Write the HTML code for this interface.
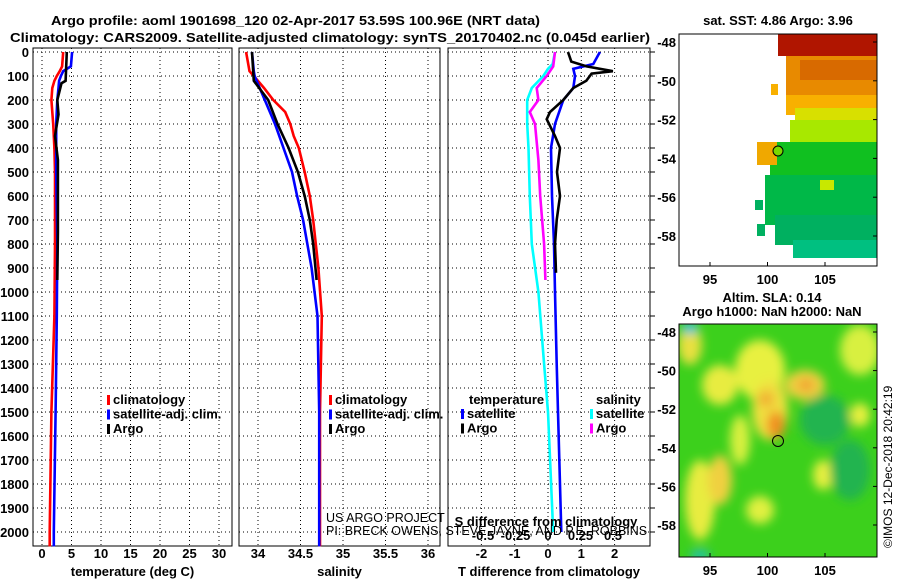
<!DOCTYPE html>
<html><head><meta charset="utf-8"><style>
body{margin:0;background:#fff;}
svg{display:block;font-family:"Liberation Sans",sans-serif;}
.t{font-weight:bold;font-size:13px;fill:#000;}
.g{stroke:#000;stroke-width:1;stroke-dasharray:1,3;}
</style></head><body>
<svg id="c" width="900" height="580" viewBox="0 0 900 580">
<defs>
<filter id="bl" x="-50%" y="-50%" width="200%" height="200%"><feGaussianBlur stdDeviation="5"/></filter>
<clipPath id="mc2"><rect x="679" y="324" width="198" height="233"/></clipPath>
<clipPath id="mc1"><rect x="679" y="34" width="198" height="232"/></clipPath>
</defs>
<text x="51" y="25" class="t" font-size="14" textLength="489" lengthAdjust="spacingAndGlyphs">Argo profile: aoml 1901698_120 02-Apr-2017 53.59S 100.96E (NRT data)</text>
<text x="10" y="42" class="t" font-size="14" textLength="640" lengthAdjust="spacingAndGlyphs">Climatology: CARS2009. Satellite-adjusted climatology: synTS_20170402.nc (0.045d earlier)</text>
<g id="plots"></g>
<!-- top map -->
<g clip-path="url(#mc1)">
<rect x="778" y="34" width="99" height="22" fill="#b01500"/>
<rect x="786" y="56" width="91" height="52" fill="#e88a00"/>
<rect x="800" y="60" width="77" height="20" fill="#d86a00"/>
<rect x="786" y="95" width="91" height="20" fill="#f8b000"/>
<rect x="795" y="108" width="82" height="20" fill="#d8e000"/>
<rect x="790" y="120" width="87" height="22" fill="#a8e800"/>
<rect x="770" y="142" width="107" height="40" fill="#10c020"/>
<rect x="765" y="175" width="112" height="50" fill="#00b848"/>
<rect x="775" y="215" width="102" height="30" fill="#00b060"/>
<rect x="793" y="240" width="84" height="18" fill="#00c080"/>
<rect x="757" y="142" width="20" height="23" fill="#f0a800"/>
<rect x="771" y="84" width="7" height="11" fill="#f8b000"/>
<rect x="755" y="200" width="8" height="10" fill="#00b060"/>
<rect x="757" y="224" width="8" height="12" fill="#00b060"/>
<rect x="820" y="180" width="14" height="10" fill="#c8e800"/>
<circle cx="778" cy="151" r="5" fill="#7ad800" stroke="#000"/>
</g>
<rect x="679" y="34" width="198" height="232" fill="none" stroke="#000"/>
<text x="778" y="25" class="t" font-size="12" text-anchor="middle">sat. SST: 4.86 Argo: 3.96</text>
<!-- bottom map -->
<g clip-path="url(#mc2)">
<rect x="679" y="324" width="198" height="233" fill="#3cd01c"/>
<g filter="url(#bl)">
<ellipse cx="760" cy="370" rx="25" ry="30" fill="#e8f040"/>
<ellipse cx="770" cy="410" rx="18" ry="30" fill="#f0e040"/>
<ellipse cx="776" cy="425" rx="9" ry="14" fill="#f09020"/>
<ellipse cx="766" cy="399" rx="8" ry="8" fill="#f0b030"/>
<ellipse cx="805" cy="385" rx="20" ry="15" fill="#f0d040"/>
<ellipse cx="806" cy="385" rx="8" ry="6" fill="#f0a030"/>
<ellipse cx="720" cy="385" rx="18" ry="20" fill="#e8ec40"/>
<ellipse cx="700" cy="500" rx="15" ry="40" fill="#e8ec40"/>
<ellipse cx="720" cy="480" rx="12" ry="25" fill="#f0d040"/>
<ellipse cx="740" cy="440" rx="10" ry="25" fill="#d8f040"/>
<ellipse cx="690" cy="345" rx="12" ry="20" fill="#e8e040"/>
<ellipse cx="860" cy="350" rx="20" ry="25" fill="#d8f040"/>
<ellipse cx="823" cy="475" rx="10" ry="15" fill="#e8f040"/>
<ellipse cx="860" cy="415" rx="10" ry="12" fill="#e8f040"/>
<ellipse cx="760" cy="510" rx="14" ry="14" fill="#e0f040"/>
<ellipse cx="825" cy="420" rx="25" ry="25" fill="#20b450"/>
<ellipse cx="850" cy="470" rx="20" ry="30" fill="#20b450"/>
<ellipse cx="690" cy="328" rx="8" ry="6" fill="#20c0e0"/>
<ellipse cx="700" cy="555" rx="10" ry="5" fill="#20c0c0"/>
</g>
<circle cx="778" cy="441" r="5.5" fill="none" stroke="#000"/>
</g>
<rect x="679" y="324" width="198" height="233" fill="none" stroke="#000"/>
<text x="772" y="302" class="t" font-size="12" text-anchor="middle">Altim. SLA: 0.14</text>
<text x="772" y="316" class="t" font-size="12" text-anchor="middle">Argo h1000: NaN h2000: NaN</text>
<text transform="translate(892,548) rotate(-90)" font-size="12">©IMOS 12-Dec-2018 20:42:19</text>
<g id="maptx"></g>
</svg>
<script>
// ---- data ----
const tDepth=[0,60,80,100,120,150,200,300,400,500,800,1100,1500,2000,2060];
const tClim=[3.6,3.4,3.0,2.5,2.1,1.75,1.6,1.9,2.1,2.2,2.2,2.1,1.6,1.3,1.3];
const tSat=[5.1,4.9,3.6,3.2,2.9,2.8,2.6,2.4,2.4,2.4,2.6,2.5,2.3,2.0,2.0];
const argoDepth=[0,120,130,200,260,350,450,750,950];
const tArgo=[4.2,4.0,3.3,2.6,2.8,2.2,2.7,2.7,2.6];
const sDepth=[0,80,100,150,200,250,300,350,400,500,600,700,900,1100,1500,2000,2060];
const sClim=[33.86,33.9,33.95,34.07,34.18,34.32,34.38,34.42,34.48,34.55,34.61,34.65,34.71,34.75,34.73,34.73,34.73];
const sSat=[33.93,33.95,33.96,34.02,34.08,34.14,34.2,34.25,34.3,34.4,34.46,34.53,34.63,34.7,34.72,34.72,34.72];
const sArgoDepth=[0,120,200,300,400,500,600,700,800,950];
const sArgo=[33.93,33.95,34.12,34.23,34.36,34.47,34.55,34.61,34.65,34.69];
const dDepth=[0,50,70,100,150,200,300,400,600,800,1000,1300,1500,2000];
const dTSat=[1.56,1.36,0.76,0.81,0.76,0.46,0.21,0.09,0.12,0.18,0.21,0.26,0.3,0.4];
const dSSat=[0.054,0.036,0.0,-0.036,-0.125,-0.16,-0.16,-0.15,-0.14,-0.125,-0.074,-0.03,0.0,0.04];
const dArgoDepth=[0,40,60,80,90,120,150,200,250,280,350,400,500,600,700,800,920];
const dTArgo=[0.6,0.7,1.16,1.95,1.31,1.15,0.76,0.46,0.06,-0.04,0.21,0.36,0.27,0.36,0.26,0.21,0.24];
const dSArgoDepth=[0,60,100,150,200,250,300,450,600,800,950];
const dSArgo=[0.054,0.04,-0.01,-0.087,-0.074,-0.14,-0.1,-0.074,-0.06,-0.03,-0.02];
const depthTicks=[0,100,200,300,400,500,600,700,800,900,1000,1100,1200,1300,1400,1500,1600,1700,1800,1900,2000];
const tTicks=[0,5,10,15,20,25,30];
const sTicks=[34,34.5,35,35.5,36];
const dTTicks=[-2,-1,0,1,2];
const dSTicks=[-0.5,-0.25,0,0.25,0.5];
const latTicks=[-48,-50,-52,-54,-56,-58];
const lonTicks=[95,100,105];
// ---- scales ----
const Y=d=>52+d*0.24;
const xT=v=>42+v*5.9;
const xS=v=>258+(v-34)*85;
const xDT=v=>548+v*33.3;
const xDS=v=>548+v*130;
const NS='http://www.w3.org/2000/svg';
const root=document.getElementById('plots');
function mk(tag,at,parent){const e=document.createElementNS(NS,tag);for(const k in at)e.setAttribute(k,at[k]);(parent||root).appendChild(e);return e;}
const top0=48,bot=546;
const panels=[{x0:33,x1:232,ticks:tTicks,sx:xT,lab:v=>String(v),title:'temperature (deg C)',name:'temperature'},
{x0:239,x1:440,ticks:sTicks,sx:xS,lab:v=>String(v),title:'salinity',name:'salinity'},
{x0:448,x1:650,ticks:dTTicks,sx:xDT,lab:v=>String(v),title:'T difference from climatology',name:'difference'}];
panels.forEach((p,i)=>{
  const g=mk('g',{});
  
  
  p.ticks.forEach(v=>{const x=p.sx(v);
    const l=mk('line',{x1:x,x2:x,y1:top0,y2:bot,class:'g'},g);
    
    
    const t=mk('text',{x:x,y:558,class:'t','text-anchor':'middle'},g);t.textContent=p.lab(v);
    
    
  });
  depthTicks.forEach(d=>{const y=Y(d);
    const l=mk('line',{x1:p.x0,x2:p.x1,y1:y,y2:y,class:'g'},g);
    
    
    if(i===0){const t=mk('text',{x:29,y:y+5,class:'t','text-anchor':'end'},g);t.textContent=d;
      
      }
    if(i===2){const tk=mk('line',{x1:p.x1,x2:p.x1+5,y1:y,y2:y,stroke:'#000'},g);
      
      }
  });
  const fr=mk('rect',{x:p.x0,y:top0,width:p.x1-p.x0,height:bot-top0,fill:'none',stroke:'#000'},g);
  
  
  const tt=mk('text',{x:(p.x0+p.x1)/2,y:576,class:'t','text-anchor':'middle'},g);tt.textContent=p.title;
  
  
});
function line(xs,ds,sx,col,name){
  const pts=xs.map((v,i)=>sx(v).toFixed(1)+','+Y(ds[i]).toFixed(1)).join(' ');
  const l=mk('polyline',{points:pts,fill:'none',stroke:col,'stroke-width':2.6});
  
  
}
line(tClim,tDepth,xT,'#f00','temp-climatology-line');
line(tSat,tDepth,xT,'#00f','temp-satellite-line');
line(tArgo,argoDepth,xT,'#000','temp-argo-line');
line(sClim,sDepth,xS,'#f00','sal-climatology-line');
line(sSat,sDepth,xS,'#00f','sal-satellite-line');
line(sArgo,sArgoDepth,xS,'#000','sal-argo-line');
line(dSSat,dDepth,xDS,'#0ff','sdiff-satellite-line');
line(dSArgo,dSArgoDepth,xDS,'#f0f','sdiff-argo-line');
line(dTSat,dDepth,xDT,'#00f','tdiff-satellite-line');
line(dTArgo,dArgoDepth,xDT,'#000','tdiff-argo-line');
// S diff axis inside panel 3
dSTicks.forEach(v=>{const t=mk('text',{x:xDS(v),y:540,class:'t','text-anchor':'middle'});t.textContent=String(v);
  
  });
{const t=mk('text',{x:546,y:526,class:'t','text-anchor':'middle'});t.textContent='S difference from climatology';
 
 }
// credits
[['US ARGO PROJECT',522],['PI: BRECK OWENS, STEVE JAYNE, AND P.E. ROBBINS',535]].forEach(([s,y])=>{
  const t=mk('text',{x:326,y:y,'font-size':12.5});t.textContent=s;
  
  });
// legends
function legend(x,y,items,name){
  const g=mk('g',{});
  
  
  items.forEach(([c,s],i)=>{
    mk('rect',{x:x,y:y+i*14.5-9,width:3,height:10,fill:c},g);
    const t=mk('text',{x:x+6,y:y+i*14.5,class:'t','font-size':12.5},g);t.textContent=s;
    
    
  });
}
legend(107,404,[['#f00','climatology'],['#00f','satellite-adj. clim.'],['#000','Argo']],'temperature-legend');
legend(329,404,[['#f00','climatology'],['#00f','satellite-adj. clim.'],['#000','Argo']],'salinity-legend');
{const t=mk('text',{x:469,y:404,class:'t','font-size':12.5});t.textContent='temperature';
 
 
 const t2=mk('text',{x:596,y:404,class:'t','font-size':12.5});t2.textContent='salinity';
 
 }
legend(461,418,[['#00f','satellite'],['#000','Argo']],'tdiff-legend');
legend(590,418,[['#0ff','satellite'],['#f0f','Argo']],'sdiff-legend');
// map ticks
const mt=document.getElementById('maptx');
[[34,266,42,236],[324,557,332,525]].forEach(([y0,y1,la0,la1],mi)=>{
  latTicks.forEach(v=>{const y=la0+(-48-v)/10*(la1-la0);
    const t=mk('text',{x:676,y:y+5,class:'t','text-anchor':'end'},mt);t.textContent=v;
    
    
    mk('line',{x1:877,x2:873,y1:y,y2:y,stroke:'#000'},mt);});
  lonTicks.forEach(v=>{const x=710+(v-95)*11.5;
    const t=mk('text',{x:x,y:y1+18,class:'t','text-anchor':'middle'},mt);t.textContent=v;
    
    
    mk('line',{x1:x,x2:x,y1:y1,y2:y1-4,stroke:'#000'},mt);});
});
</script>
</body></html>
